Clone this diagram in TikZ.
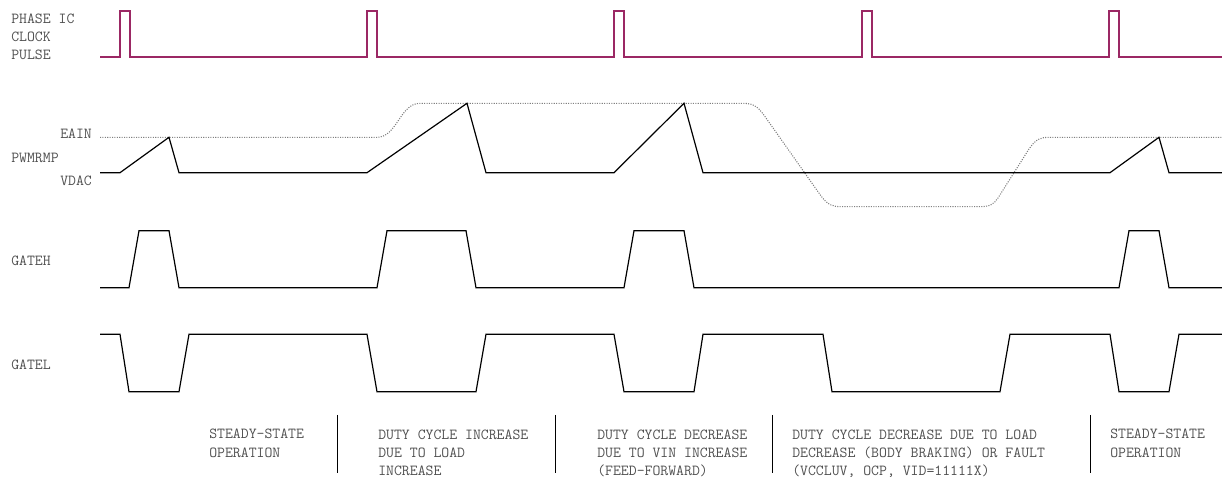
\documentclass[tikz,border=0pt]{standalone}
\usepackage{fontspec}
\usepackage{xcolor}
\definecolor{clockred}{RGB}{155,40,100}
\definecolor{labelgray}{RGB}{80,80,80}

\begin{document}
\begin{tikzpicture}[x=0.75pt,y=-0.75pt,
        wave/.style={line width=0.9pt,line join=miter},
        clk/.style={line width=1pt,color=clockred},
        eain/.style={line width=0.8pt,densely dotted,color=gray},
        lbl/.style={font=\ttfamily\fontsize{11.5}{13.6}\selectfont,text=labelgray,inner sep=0pt,anchor=base west,align=left},
        sep/.style={line width=0.7pt}]
        \useasboundingbox (0,0) rectangle (1222,477);
        % signal names (base = last line)
        \node[lbl] at (11,59.3) (clklbl) {PHASE IC\\CLOCK\\PULSE};
        \node[lbl] at (60,138.3) (eainlbl) {EAIN};
        \node[lbl] at (11,162.7) (ramplbl) {PWMRMP};
        \node[lbl] at (60,186) (vdaclbl) {VDAC};
        \node[lbl] at (11,266) (gatehlbl) {GATEH};
        \node[lbl] at (11,369.3) (gatellbl) {GATEL};
        % clock pulses
        \draw[clk] (100,57) -- (120,57) -- (120,11) -- (130,11) -- (130,57)
            -- (367,57) -- (367,11) -- (377,11) -- (377,57)
            -- (614,57) -- (614,11) -- (624,11) -- (624,57)
            -- (862,57) -- (862,11) -- (872,11) -- (872,57)
            -- (1109,57) -- (1109,11) -- (1119,11) -- (1119,57) -- (1222,57);
        % error amp level
        \draw[eain] (100,137.3) -- (377,137.3) .. controls (397,137.3) and (400,103.3) .. (420,103.3)
            -- (743,103.3) .. controls (755,103.3) and (759,108) .. (766,118)
            -- (821,196) .. controls (828,205) and (832,206.7) .. (842,206.7)
            -- (980,206.7) .. controls (990,206.7) and (994,204) .. (998,198)
            -- (1029,149) .. controls (1036,139) and (1040,137.3) .. (1050,137.3) -- (1222,137.3);
        % ramp
        \draw[wave] (100,172.7) -- (120,172.7) -- (169,137.3) -- (179,172.7)
            -- (367,172.7) -- (467,103.3) -- (486,172.7)
            -- (614,172.7) -- (684,103.3) -- (703,172.7)
            -- (1110,172.7) -- (1159,137.3) -- (1169,172.7) -- (1222,172.7);
        % high side gate
        \draw[wave] (100,287.7) -- (129,287.7) -- (139,230.7) -- (169,230.7) -- (179,287.7)
            -- (377,287.7) -- (387,230.7) -- (466,230.7) -- (476,287.7)
            -- (624,287.7) -- (634,230.7) -- (684,230.7) -- (694,287.7)
            -- (1119,287.7) -- (1129,230.7) -- (1159,230.7) -- (1169,287.7) -- (1222,287.7);
        % low side gate
        \draw[wave] (100,334.3) -- (120,334.3) -- (129,391.7) -- (179,391.7) -- (189,334.3)
            -- (367,334.3) -- (377,391.7) -- (476,391.7) -- (486,334.3)
            -- (614,334.3) -- (624,391.7) -- (694,391.7) -- (703,334.3)
            -- (823,334.3) -- (832,391.7) -- (1000,391.7) -- (1010,334.3)
            -- (1110,334.3) -- (1119,391.7) -- (1169,391.7) -- (1179,334.3) -- (1222,334.3);
        % operating modes
        \node[lbl] at (209,457.1) (mode1) {STEADY-STATE\\OPERATION};
        \node[lbl] at (378,475.3) (mode2) {DUTY CYCLE INCREASE\\DUE TO LOAD\\INCREASE};
        \node[lbl] at (597,475.3) (mode3) {DUTY CYCLE DECREASE\\DUE TO VIN INCREASE\\(FEED-FORWARD)};
        \node[lbl] at (792,475.3) (mode4) {DUTY CYCLE DECREASE DUE TO LOAD\\DECREASE (BODY BRAKING) OR FAULT\\(VCCLUV, OCP, VID=11111X)};
        \node[lbl] at (1110,457.1) (mode5) {STEADY-STATE\\OPERATION};
        \draw[sep] (337.5,415) -- (337.5,473);
        \draw[sep] (555.5,415) -- (555.5,473);
        \draw[sep] (772,415) -- (772,473);
        \draw[sep] (1090,415) -- (1090,473);
    \end{tikzpicture}
\end{document}
